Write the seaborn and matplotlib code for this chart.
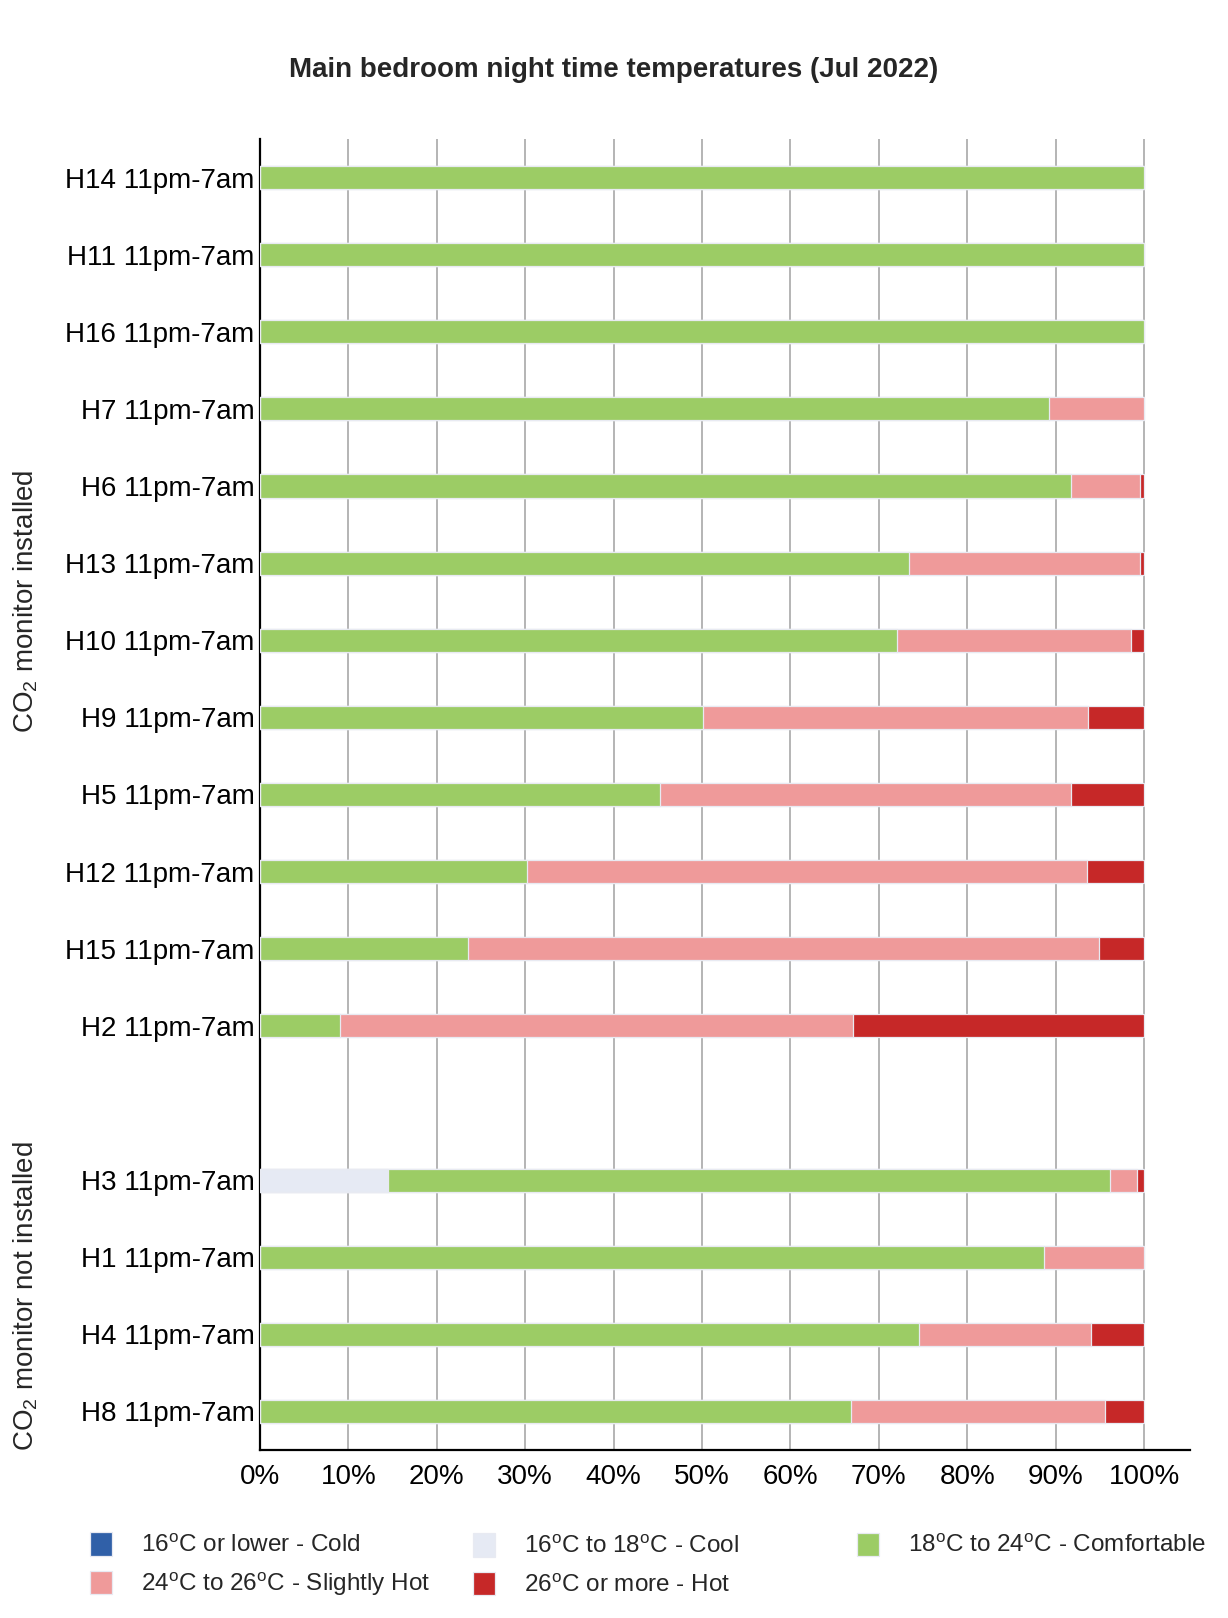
import matplotlib
matplotlib.use("Agg")
import matplotlib.pyplot as plt
from matplotlib.patches import Patch
from matplotlib.transforms import blended_transform_factory
import seaborn as sns
import pandas as pd
import numpy as np

# ---------------- data ----------------
houses = ["H14", "H11", "H16", "H7", "H6", "H13", "H10", "H9", "H5", "H12",
          "H15", "H2", "H3", "H1", "H4", "H8"]
labels = [h + " 11pm-7am" for h in houses]
positions = [0, 1, 2, 3, 4, 5, 6, 7, 8, 9, 10, 11, 13, 14, 15, 16]
groups = ["installed"] * 12 + ["not installed"] * 4

cold = [0, 0, 0, 0, 0, 0, 0, 0, 0, 0, 0, 0, 0, 0, 0, 0]
cool = [0, 0, 0, 0, 0, 0, 0, 0, 0, 0, 0, 0, 14.5, 0, 0, 0]
comfortable = [100, 100, 100, 89.2, 91.7, 73.4, 72.0, 50.1, 45.2, 30.2, 23.5, 9.1,
               81.7, 88.7, 74.6, 66.8]
slightly_hot = [0, 0, 0, 10.8, 7.9, 26.2, 26.5, 43.6, 46.5, 63.4, 71.4, 58.0,
                3.0, 11.3, 19.4, 28.8]
hot = [0, 0, 0, 0, 0.4, 0.4, 1.5, 6.3, 8.3, 6.4, 5.1, 32.9,
       0.8, 0, 6.0, 4.4]

band_names = [r"16$^{\mathrm{o}}$C or lower - Cold",
              r"16$^{\mathrm{o}}$C to 18$^{\mathrm{o}}$C - Cool",
              r"18$^{\mathrm{o}}$C to 24$^{\mathrm{o}}$C - Comfortable",
              r"24$^{\mathrm{o}}$C to 26$^{\mathrm{o}}$C - Slightly Hot",
              r"26$^{\mathrm{o}}$C or more - Hot"]
band_colors = ["#3060a8", "#e6eaf4", "#9ccc65", "#ef9a9a", "#c62828"]

xticks = [0, 10, 20, 30, 40, 50, 60, 70, 80, 90, 100]
xticklabels = [f"{v}%" for v in xticks]

title = "Main bedroom night time temperatures (Jul 2022)"
group_labels = {"installed": r"CO$_2$ monitor installed",
                "not installed": r"CO$_2$ monitor not installed"}

# ---------------- style ----------------
sns.set_theme(style="white")
plt.rcParams["font.family"] = ["Liberation Sans", "DejaVu Sans"]
plt.rcParams["mathtext.fontset"] = "custom"
plt.rcParams["mathtext.rm"] = "Liberation Sans"
plt.rcParams["mathtext.it"] = "Liberation Sans:italic"
plt.rcParams["mathtext.bf"] = "Liberation Sans:bold"

fig = plt.figure(figsize=(12.28, 16.18), dpi=100)
ax = fig.add_axes([260 / 1228, 1 - 1450 / 1618, 930 / 1228, (1450 - 139) / 1618])

df = pd.DataFrame({
    "label": labels, "pos": positions,
    "cold": cold, "cool": cool, "comfortable": comfortable,
    "slightly_hot": slightly_hot, "hot": hot,
})
bands = ["cold", "cool", "comfortable", "slightly_hot", "hot"]
cum = df[bands].cumsum(axis=1)

# draw from the outermost cumulative value inward so segments stack
for band, color in reversed(list(zip(bands, band_colors))):
    if df[band].sum() == 0 and band == "cold":
        continue
    d = pd.DataFrame({"pos": df["pos"], "value": cum[band]})
    sns.barplot(data=d, x="value", y="pos", orient="y", native_scale=True,
                color=color, width=0.3, edgecolor="#e8eaf2", linewidth=0.9,
                errorbar=None, ax=ax, zorder=3, saturation=1)

ax.set_xlim(0, 105.2)
ax.set_ylim(16.5, -0.5)
ax.set_xticks(xticks)
ax.set_xticklabels(xticklabels, fontsize=20, color="black")
ax.set_yticks(positions)
ax.set_yticklabels(labels, fontsize=20, color="black")
ax.tick_params(axis="both", length=0)
ax.tick_params(axis="y", pad=4)
ax.tick_params(axis="x", pad=10)
ax.set_xlabel("")
ax.set_ylabel("")
ax.xaxis.grid(True, color="#a8a8a8", linewidth=1.2, zorder=0)
ax.yaxis.grid(False)
ax.set_axisbelow(True)
for s in ["top", "right"]:
    ax.spines[s].set_visible(False)
for s in ["left", "bottom"]:
    ax.spines[s].set_color("black")
    ax.spines[s].set_linewidth(1.6)

fig.text(0.5, 1 - 70 / 1618, title, ha="center", va="center",
         fontsize=20, fontweight="bold")

trans = blended_transform_factory(fig.transFigure, ax.transData)
for g, txt in group_labels.items():
    ps = [p for p, gg in zip(positions, groups) if gg == g]
    ax.text(26 / 1228, (min(ps) + max(ps)) / 2, txt, transform=trans,
            rotation=90, ha="center", va="center", fontsize=20)

handles = [Patch(facecolor=c, edgecolor="#e8eaf2", linewidth=0.9) for c in band_colors]
col_x = [90 / 1228, 473 / 1228, 857 / 1228]
col_items = [[0, 3], [1, 4], [2]]
for cx, items in zip(col_x, col_items):
    yc = (1545 + 1585) / 2 if len(items) == 2 else 1545
    leg = fig.legend([handles[i] for i in items], [band_names[i] for i in items],
                     loc="center left", bbox_to_anchor=(cx, 1 - yc / 1618),
                     frameon=False, fontsize=17.5, handlelength=0.9,
                     handleheight=1.1, handletextpad=1.2, labelspacing=0.55,
                     borderpad=0, borderaxespad=0)

fig.savefig("out.png", dpi=100)
